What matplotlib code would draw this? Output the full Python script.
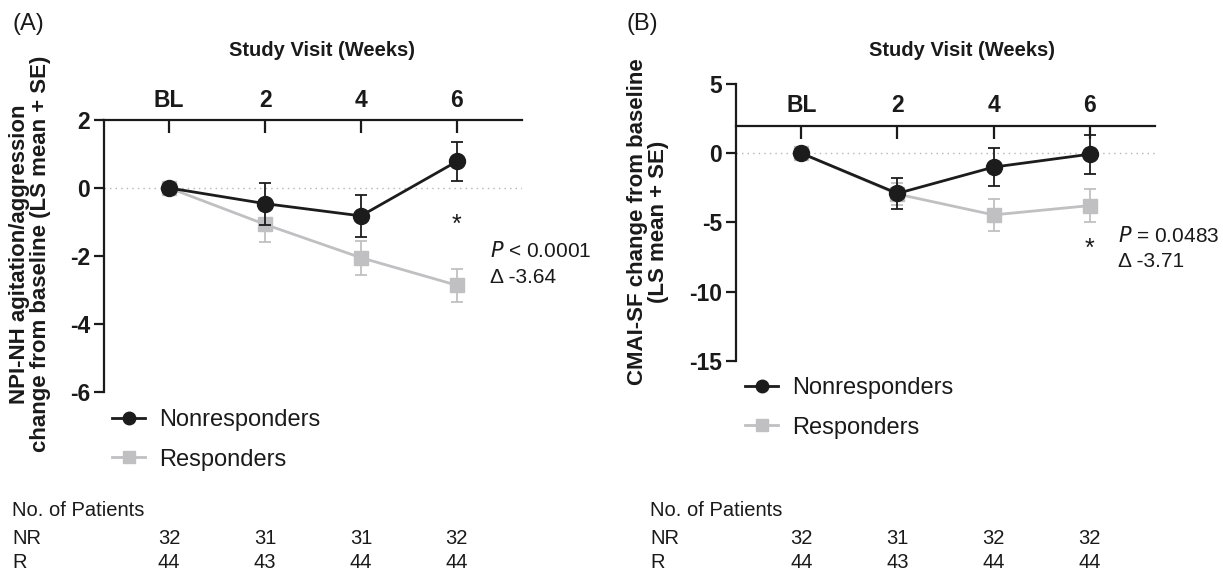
import matplotlib
matplotlib.use("Agg")
import matplotlib.pyplot as plt
import matplotlib.transforms as mtransforms
from matplotlib.lines import Line2D
import numpy as np

plt.rcParams['font.family'] = ['Liberation Sans', 'DejaVu Sans']

visits = ["BL", "2", "4", "6"]

# Panel A: NPI-NH agitation/aggression (LS mean change, SE)
a_nr_mean = [0.0, -0.46, -0.82, 0.78]
a_nr_se = [0.0, 0.62, 0.61, 0.58]
a_r_mean = [0.0, -1.07, -2.05, -2.86]
a_r_se = [0.0, 0.51, 0.50, 0.49]

# Panel B: CMAI-SF (LS mean change, SE)
b_nr_mean = [0.0, -2.9, -1.0, -0.07]
b_nr_se = [0.0, 1.1, 1.35, 1.4]
b_r_mean = [0.0, -2.95, -4.45, -3.78]
b_r_se = [0.0, 0.8, 1.15, 1.2]

nr_counts_a = [32, 31, 31, 32]
r_counts_a = [44, 43, 44, 44]
nr_counts_b = [32, 31, 32, 32]
r_counts_b = [44, 43, 44, 44]

NR_COLOR = "#1c1c1c"
R_COLOR = "#c0c0c2"
TXT = "#1a1a1a"

W, H = 1223, 573
fig = plt.figure(figsize=(W / 100, H / 100), dpi=100)


def px_axes(left, right, top, bottom):
    return fig.add_axes([left / W, 1 - bottom / H, (right - left) / W, (bottom - top) / H])


def style_axis(ax, ylim, yticks, top_at):
    x = np.arange(len(visits))
    ax.set_xlim(-0.68, 3.68)
    ax.set_ylim(*ylim)
    ax.spines['right'].set_visible(False)
    ax.spines['bottom'].set_visible(False)
    ax.spines['top'].set_position(('data', top_at))
    for s in ('top', 'left'):
        ax.spines[s].set_linewidth(1.6)
        ax.spines[s].set_color(TXT)
    ax.xaxis.set_ticks_position('top')
    ax.set_xticks(x)
    ax.set_xticklabels(visits, fontsize=16.5, fontweight='bold')
    ax.tick_params(axis='x', direction='in', length=9, width=1.6, pad=6, colors=TXT)
    ax.set_yticks(yticks)
    ax.set_yticklabels([str(t) for t in yticks], fontsize=16.5, fontweight='bold')
    ax.tick_params(axis='y', direction='out', length=7, width=1.6, pad=3, colors=TXT)
    ax.axhline(0, color='#b5b5b5', lw=1.0, ls=(0, (1, 3)), zorder=0)
    ax.patch.set_visible(False)


def plot_series(ax, nr_m, nr_s, r_m, r_s):
    x = np.arange(len(visits))
    ax.errorbar(x, r_m, yerr=r_s, color=R_COLOR, marker='s', ms=10, lw=2,
                capsize=4, elinewidth=1.3, capthick=1.3, zorder=2)
    ax.errorbar(x, nr_m, yerr=nr_s, color=NR_COLOR, marker='o', ms=11.5, lw=2,
                capsize=4, elinewidth=1.3, capthick=1.3, zorder=3)


# Panel A
axA = px_axes(104, 522, 120, 392)
style_axis(axA, (-6, 2), [2, 0, -2, -4, -6], 2)
plot_series(axA, a_nr_mean, a_nr_se, a_r_mean, a_r_se)
axA.text(3, -1.09, "*", fontsize=18, ha='center', va='center', color=TXT)
axA.text(3.35, -1.86, r"$\mathit{P}$ < 0.0001", fontsize=15, ha='left', va='center', clip_on=False, color=TXT)
axA.text(3.35, -2.64, "Δ -3.64", fontsize=15, ha='left', va='center', clip_on=False, color=TXT)
fig.text(30 / W, 1 - 254 / H, "NPI-NH agitation/aggression\nchange from baseline (LS mean + SE)",
         rotation=90, fontsize=16, fontweight='bold', ha='center', va='center',
         linespacing=1.05, multialignment='center', color=TXT)

# Panel B
axB = px_axes(736, 1155, 84, 361)
style_axis(axB, (-15, 5), [5, 0, -5, -10, -15], 2)
plot_series(axB, b_nr_mean, b_nr_se, b_r_mean, b_r_se)
axB.text(3, -6.87, "*", fontsize=18, ha='center', va='center', color=TXT)
axB.text(3.29, -6.0, r"$\mathit{P}$ = 0.0483", fontsize=15, ha='left', va='center', clip_on=False, color=TXT)
axB.text(3.29, -7.85, "Δ -3.71", fontsize=15, ha='left', va='center', clip_on=False, color=TXT)
fig.text(648 / W, 1 - 222 / H, "CMAI-SF change from baseline\n(LS mean + SE)",
         rotation=90, fontsize=16, fontweight='bold', ha='center', va='center',
         linespacing=1.05, multialignment='center', color=TXT)

# Legends
h_nr = Line2D([], [], color=NR_COLOR, marker='o', ms=9, lw=2)
h_r = Line2D([], [], color=R_COLOR, marker='s', ms=8.5, lw=2)
for lx, ly in ((112, 409), (745, 377)):
    fig.legend([h_nr, h_r], ["Nonresponders", "Responders"],
               loc='upper left', bbox_to_anchor=(lx / W, 1 - ly / H),
               frameon=False, fontsize=17, handlelength=1.4, handletextpad=0.6,
               labelspacing=0.75, borderaxespad=0, borderpad=0, labelcolor=TXT)

# Titles and panel labels
fig.text(12 / W, 1 - 24 / H, "(A)", fontsize=17, ha='left', va='center', color=TXT)
fig.text(627 / W, 1 - 24 / H, "(B)", fontsize=17, ha='left', va='center', color=TXT)
fig.text(322 / W, 1 - 50 / H, "Study Visit (Weeks)", fontsize=14.5, fontweight='bold',
         ha='center', va='center', color=TXT)
fig.text(962 / W, 1 - 50 / H, "Study Visit (Weeks)", fontsize=14.5, fontweight='bold',
         ha='center', va='center', color=TXT)


# Patient number tables (columns aligned to the visit positions)
def table(ax, x0, nr, r):
    tr = mtransforms.blended_transform_factory(ax.transData, fig.transFigure)
    rows = [510, 538, 563]
    fig.text(x0 / W, 1 - rows[0] / H, "No. of Patients", fontsize=14.5, ha='left', va='center', color=TXT)
    fig.text(x0 / W, 1 - rows[1] / H, "NR", fontsize=14.5, ha='left', va='center', color=TXT)
    fig.text(x0 / W, 1 - rows[2] / H, "R", fontsize=14.5, ha='left', va='center', color=TXT)
    for i, (a, b) in enumerate(zip(nr, r)):
        fig.text(i, 1 - rows[1] / H, str(a), fontsize=14.5, ha='center', va='center', transform=tr, color=TXT)
        fig.text(i, 1 - rows[2] / H, str(b), fontsize=14.5, ha='center', va='center', transform=tr, color=TXT)


table(axA, 12, nr_counts_a, r_counts_a)
table(axB, 650, nr_counts_b, r_counts_b)

fig.savefig("out.png", dpi=100)
